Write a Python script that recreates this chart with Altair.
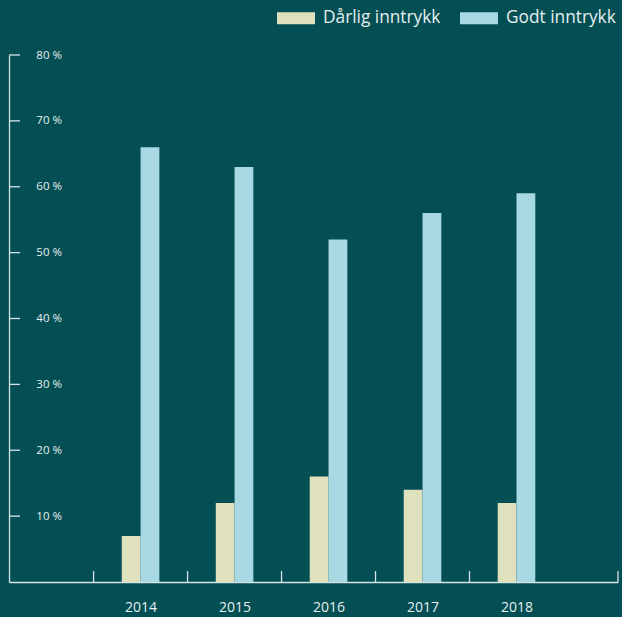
import altair as alt
import pandas as pd
import jinja2

# ---- data ----
years = [2014, 2015, 2016, 2017, 2018]
darlig = [7, 12, 16, 14, 12]
godt = [66, 63, 52, 56, 59]
series = ["Dårlig inntrykk", "Godt inntrykk"]
y_ticks = [10, 20, 30, 40, 50, 60, 70, 80]
separators = [2013.5, 2014.5, 2015.5, 2016.5, 2017.5, 2019.08]

BG = "#034f54"
BEIGE = "#dfe0bc"
BLUE = "#a8d8e2"
FG = "#e6eeee"
LINE = "#d6e4e6"
FONT = "Open Sans"

rows = []
for i, yr in enumerate(years):
    rows.append({"year": yr, "serie": series[0], "value": darlig[i]})
    rows.append({"year": yr, "serie": series[1], "value": godt[i]})
df = pd.DataFrame(rows)
sep_df = pd.DataFrame({"sep": separators})
tick_df = pd.DataFrame({"t": y_ticks})

W, H = 609, 527
BW = 0.2  # bar width in years

xscale = alt.Scale(domain=[2012.6, 2019.08], nice=False, zero=False)
yscale = alt.Scale(domain=[0, 80], nice=False, zero=True)

xaxis = alt.Axis(values=years, format="d", title=None, grid=False, ticks=False, tickSize=0,
                 domainColor=LINE, domainWidth=1.3, labelColor=FG, labelFont=FONT,
                 labelFontSize=14, labelPadding=18, labelOverlap=False, labelFlush=False)
yaxis = alt.Axis(values=y_ticks, labelExpr="datum.value + ' %'", title=None, grid=False,
                 ticks=False, tickSize=0, domainColor=LINE, domainWidth=1.3, labelColor=FG,
                 labelFont=FONT, labelFontSize=11.5, labelAlign="right", labelPadding=-52.5,
                 labelOverlap=False)

bars = alt.Chart(df).transform_calculate(
    x0=f"datum.serie == '{series[0]}' ? datum.year - {BW} : datum.year",
).transform_calculate(
    x1=f"datum.x0 + {BW}"
).mark_bar(stroke=None).encode(
    x=alt.X("x0:Q", scale=xscale, axis=xaxis),
    x2="x1:Q",
    y=alt.Y("value:Q", scale=yscale, axis=yaxis, stack=None),
    y2=alt.datum(0),
    color=alt.Color(
        "serie:N",
        scale=alt.Scale(domain=series, range=[BEIGE, BLUE]),
        legend=alt.Legend(
            orient="none", legendX=268, legendY=-56, direction="horizontal", title=None,
            symbolType="M-1,-0.316H1V0.316H-1Z", symbolSize=1444, symbolStrokeWidth=0,
            symbolOpacity=1, labelFontSize=17.3, labelColor=FG, labelFont=FONT,
            labelOffset=8, columnPadding=19, padding=0, labelLimit=300,
        ),
    ),
)

seps = alt.Chart(sep_df).mark_rule(color=LINE, strokeWidth=1.3).encode(
    x=alt.X("sep:Q", scale=xscale, axis=xaxis),
    y=alt.value(H),
    y2=alt.value(H - 11),
)

yticks = alt.Chart(tick_df).mark_rule(color=LINE, strokeWidth=1.3).encode(
    y=alt.Y("t:Q", scale=yscale, axis=yaxis),
    x=alt.value(0),
    x2=alt.value(11),
)

chart = alt.layer(bars, seps, yticks).properties(
    width=W, height=H,
    autosize=alt.AutoSizeParams(type="none"),
    padding={"left": 1, "top": 47, "right": 8, "bottom": 36},
    background=BG,
).configure_view(stroke=None)

TEMPLATE = jinja2.Template("""<!DOCTYPE html>
<html>
<head>
  <style>
    html { background: #034f54; overflow: hidden; }
    body { background: #034f54; width: 700px; }
    #{{ output_div }} { width: 700px !important; }
    #{{ output_div }}, #{{ output_div }} * { overflow: visible !important; }
    #{{ output_div }} svg { max-width: none !important; }
  </style>
  <script type="text/javascript" src="{{ base_url }}/vega@{{ vega_version }}"></script>
  <script type="text/javascript" src="{{ base_url }}/vega-lite@{{ vegalite_version }}"></script>
  <script type="text/javascript" src="{{ base_url }}/vega-embed@{{ vegaembed_version }}"></script>
</head>
<body>
  <div id="{{ output_div }}"></div>
  <script>
    (function(vegaEmbed) {
      var spec = {{ spec }};
      var embedOpt = {{ embed_options }};
      const el = document.getElementById('{{ output_div }}');
      vegaEmbed("#{{ output_div }}", spec, embedOpt).catch(function(error) {
        el.innerHTML = '<div style="color:red;"><p>JavaScript Error: ' + error.message + '</p></div>';
        throw error;
      });
    })(vegaEmbed);
  </script>
</body>
</html>
""")

chart.save("out.html", embed_options={"renderer": "svg", "actions": False}, template=TEMPLATE)
